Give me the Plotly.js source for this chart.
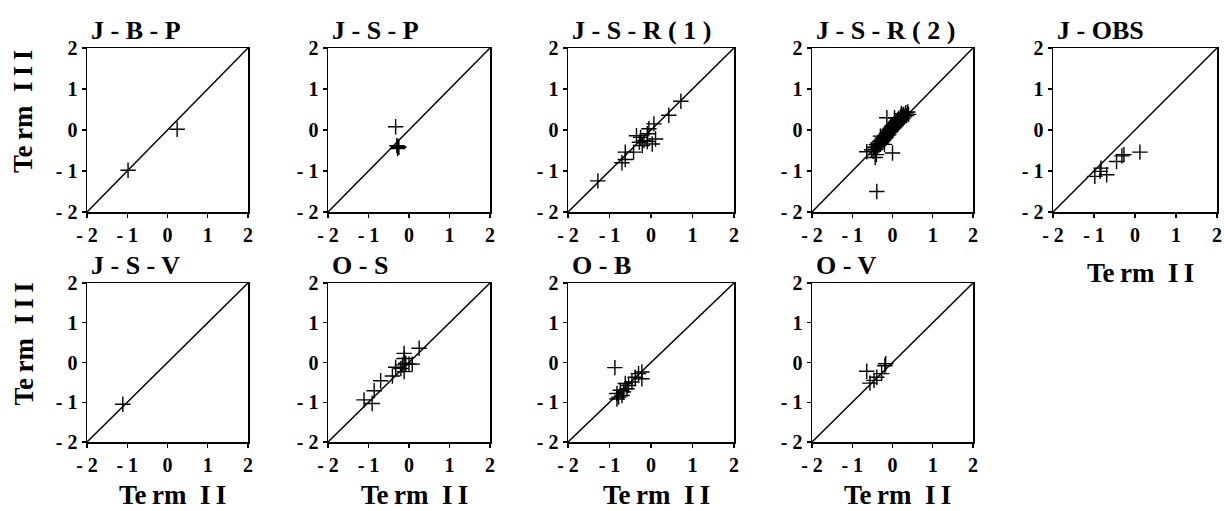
<!DOCTYPE html>
<html>
<head>
<meta charset="utf-8">
<script src="https://cdn.plot.ly/plotly-3.0.1.min.js"></script>
<style>html,body{margin:0;padding:0;background:#fff;}#chart{width:1224px;height:511px;}</style>
</head>
<body>
<div id="chart"></div>
<script>
// ---- data ----
var panelTitles = ["J - B - P", "J - S - P", "J - S - R ( 1 )", "J - S - R ( 2 )", "J - OBS",
                   "J - S - V", "O - S", "O - B", "O - V"];
var tickValues = [-2, -1, 0, 1, 2];
var tickLabels = ["- 2", "- 1", "0", "1", "2"];
var diagX = [-2, 2];
var diagY = [-2, 2];
var xTitle = "Te\u2009rm\u00a0\u00a0I\u2009I";
var yTitle = "Te\u2009rm\u00a0\u00a0I\u2009I\u2009I";

var jbpX = [-0.98, 0.24];
var jbpY = [-0.98, 0.02];

var jspX = [-0.33, -0.30, -0.25, -0.28, -0.27];
var jspY = [0.08, -0.38, -0.42, -0.45, -0.40];

var jsr1X = [-1.28, -0.70, -0.62, -0.62, -0.42, -0.25, -0.17, -0.28, -0.09, -0.05, 0.07, 0.11, 0.03, -0.35, -0.21, -0.09, 0.43, 0.72];
var jsr1Y = [-1.24, -0.80, -0.72, -0.54, -0.54, -0.18, -0.26, -0.30, -0.09, 0.03, 0.15, -0.22, -0.34, -0.14, -0.38, -0.28, 0.36, 0.70];

var jsr2X = [-0.52, -0.48, -0.45, -0.42, -0.40, -0.38, -0.36, -0.34, -0.32, -0.30, -0.28, -0.27, -0.25, -0.24, -0.22, -0.21,
             -0.19, -0.18, -0.16, -0.15, -0.13, -0.12, -0.10, -0.09, -0.08, -0.06, -0.05, -0.03, -0.02, 0.00, 0.01, 0.03,
             0.04, 0.06, 0.07, 0.09, 0.10, 0.12, 0.13, 0.15, 0.16, 0.18, 0.20, 0.22, 0.24, 0.26, 0.28, 0.30, 0.33, 0.35,
             0.38, 0.40, -0.14, -0.64, -0.43, -0.40, 0.00, -0.39, 0.22, 0.05, -0.30, -0.20];
var jsr2Y = [-0.48, -0.52, -0.42, -0.47, -0.36, -0.42, -0.33, -0.38, -0.28, -0.34, -0.25, -0.31, -0.20, -0.27, -0.18, -0.24,
             -0.13, -0.20, -0.10, -0.17, -0.06, -0.13, -0.03, -0.10, 0.02, -0.05, 0.05, -0.02, 0.09, 0.02, 0.12, 0.05,
             0.15, 0.08, 0.19, 0.12, 0.22, 0.15, 0.26, 0.18, 0.29, 0.22, 0.32, 0.25, 0.36, 0.28, 0.38, 0.32, 0.42, 0.35,
             0.44, 0.38, 0.30, -0.53, -0.67, -0.60, -0.56, -1.50, 0.40, 0.30, -0.15, -0.35];

var jobsX = [-0.98, -0.85, -0.69, -0.45, -0.32, -0.27, 0.12, -0.83];
var jobsY = [-1.13, -1.01, -1.09, -0.77, -0.63, -0.60, -0.54, -0.93];

var jsvX = [-1.11];
var jsvY = [-1.05];

var osX = [-1.11, -0.91, -0.86, -0.70, -0.41, -0.33, -0.12, -0.12, -0.16, -0.08, 0.00, 0.08, -0.12, -0.20, 0.25];
var osY = [-0.94, -1.03, -0.71, -0.46, -0.34, -0.12, 0.23, 0.10, -0.06, -0.02, -0.04, -0.04, -0.23, -0.15, 0.36];

var obX = [-0.87, -0.82, -0.78, -0.74, -0.66, -0.62, -0.58, -0.54, -0.46, -0.38, -0.30, -0.22, -0.22, -0.82, -0.70];
var obY = [-0.13, -0.78, -0.87, -0.70, -0.74, -0.53, -0.66, -0.58, -0.49, -0.37, -0.28, -0.24, -0.41, -0.92, -0.83];

var ovX = [-0.64, -0.56, -0.46, -0.39, -0.27, -0.19, -0.17];
var ovY = [-0.22, -0.52, -0.45, -0.37, -0.28, -0.08, -0.03];

var seriesX = [jbpX, jspX, jsr1X, jsr2X, jobsX, jsvX, osX, obX, ovX];
var seriesY = [jbpY, jspY, jsr1Y, jsr2Y, jobsY, jsvY, osY, obY, ovY];

// ---- layout geometry (pixels) ----
var W = 1224, H = 511;
var colL = [87, 328, 568, 812, 1053];
var colR = [248, 490, 734, 973, 1217];
var rowT = [48, 283];
var rowB = [212, 442];
var panelPos = [[0,0],[0,1],[0,2],[0,3],[0,4],[1,0],[1,1],[1,2],[1,3]];

var serif = "Liberation Serif";
var boldTicks = tickLabels.map(function (t) { return "<b>" + t + "</b>"; });
function tf() { return {family: serif, size: 20, weight: "bold", color: "#000"}; }
var traces = [];
var layout = {
  width: W, height: H,
  margin: {l: 0, r: 0, t: 0, b: 0},
  paper_bgcolor: "#fff", plot_bgcolor: "#fff",
  font: {family: serif, size: 20, color: "#000"},
  showlegend: false,
  annotations: []
};

panelPos.forEach(function (rc, i) {
  var r = rc[0], c = rc[1];
  var n = i + 1;
  var xa = "x" + (n === 1 ? "" : n), ya = "y" + (n === 1 ? "" : n);
  layout["xaxis" + (n === 1 ? "" : n)] = {
    domain: [colL[c] / W, colR[c] / W], anchor: ya,
    range: [-2, 2], tickmode: "array", tickvals: tickValues, ticktext: boldTicks,
    showgrid: false, zeroline: false, showline: true, mirror: true,
    linecolor: "#000", linewidth: 1.5, ticks: "outside", ticklen: 4, tickwidth: 1.3, tickcolor: "#000",
    tickfont: tf(), fixedrange: true
  };
  layout["yaxis" + (n === 1 ? "" : n)] = {
    domain: [1 - rowB[r] / H, 1 - rowT[r] / H], anchor: xa,
    range: [-2, 2], tickmode: "array", tickvals: tickValues, ticktext: boldTicks,
    showgrid: false, zeroline: false, showline: true, mirror: true,
    linecolor: "#000", linewidth: 1.5, ticks: "outside", ticklen: 4, tickwidth: 1.3, tickcolor: "#000",
    tickfont: tf(), fixedrange: true
  };

  traces.push({
    x: diagX, y: diagY, xaxis: xa, yaxis: ya, mode: "lines", type: "scatter",
    line: {color: "#000", width: 1.5}, hoverinfo: "skip"
  });
  traces.push({
    x: seriesX[i], y: seriesY[i], xaxis: xa, yaxis: ya, mode: "markers", type: "scatter",
    marker: {symbol: "cross-thin", size: 11, color: "#000", line: {color: "#000", width: 1.4}}
  });

  layout.annotations.push({
    text: "<b>" + panelTitles[i] + "</b>", xref: "paper", yref: "paper",
    x: (colL[c] + 2) / W, xanchor: "left",
    y: 1 - (rowT[r] - 18) / H, yanchor: "middle",
    showarrow: false, font: {family: serif, size: 26, color: "#000"}
  });
  if (r === 1 || (r === 0 && c === 4)) {
    layout.annotations.push({
      text: "<b>" + xTitle + "</b>", xref: "paper", yref: "paper",
      x: ((colL[c] + colR[c]) / 2 + 5) / W, xanchor: "center",
      y: r === 1 ? 0 : 1 - (rowB[r] + 61) / H, yanchor: r === 1 ? "bottom" : "middle",
      borderpad: 0,
      showarrow: false, font: {family: serif, size: 27, color: "#000"}
    });
  }
  if (c === 0) {
    layout.annotations.push({
      text: "<b>" + yTitle + "</b>", xref: "paper", yref: "paper", textangle: -90,
      x: 23 / W, xanchor: "center",
      y: 1 - ((rowT[r] + rowB[r]) / 2 - 18) / H, yanchor: "middle",
      showarrow: false, font: {family: serif, size: 27, color: "#000"}
    });
  }
});

Plotly.newPlot("chart", traces, layout, {displayModeBar: false, staticPlot: true});
</script>
</body>
</html>
